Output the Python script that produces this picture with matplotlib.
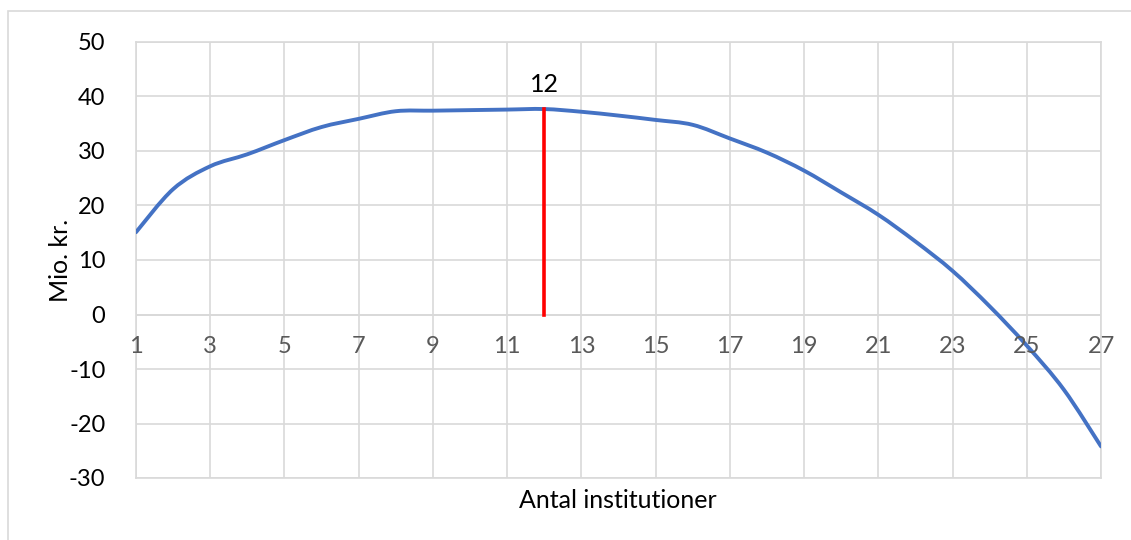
import matplotlib
matplotlib.use("Agg")
import matplotlib.pyplot as plt
from matplotlib.patches import Rectangle, PathPatch
from matplotlib.path import Path

# Antal institutioner vs. Mio. kr.
antal = list(range(1, 28))
mio_kr = [15.1, 23.0, 27.2, 29.4, 32.0, 34.4, 35.9, 37.3, 37.4, 37.5,
          37.6, 37.7, 37.2, 36.5, 35.7, 34.8, 32.3, 29.7, 26.4, 22.4,
          18.3, 13.4, 8.0, 1.5, -5.7, -13.8, -24.2]
optimum = 12
optimum_val = 37.7

plt.rcParams["font.family"] = ["Lato", "DejaVu Sans"]
plt.rcParams["axes.unicode_minus"] = False

fig = plt.figure(figsize=(11.31, 5.40), dpi=100)
ax = fig.add_axes([136 / 1131, 1 - 478 / 540, (1101 - 136) / 1131, (478 - 42) / 540])

# outer chart border (Excel frame)
fig.patches.append(Rectangle((8 / 1131, -0.05), 1.2, 1 - 11 / 540 + 0.05,
                             transform=fig.transFigure, fill=False,
                             edgecolor="#d9d9d9", lw=1.2))

# smoothed line like Excel: cubic bezier segments through the data points
verts = [(antal[0], mio_kr[0])]
codes = [Path.MOVETO]
n = len(antal)
for i in range(n - 1):
    x0, y0 = antal[max(i - 1, 0)], mio_kr[max(i - 1, 0)]
    x1, y1 = antal[i], mio_kr[i]
    x2, y2 = antal[i + 1], mio_kr[i + 1]
    x3, y3 = antal[min(i + 2, n - 1)], mio_kr[min(i + 2, n - 1)]
    verts += [(x1 + (x2 - x0) / 6, y1 + (y2 - y0) / 6),
              (x2 - (x3 - x1) / 6, y2 - (y3 - y1) / 6),
              (x2, y2)]
    codes += [Path.CURVE4] * 3
ax.add_patch(PathPatch(Path(verts, codes), facecolor="none", edgecolor="#4472C4",
                       lw=2.8, capstyle="round", zorder=3))

ax.plot([optimum, optimum], [0, optimum_val], color="#FF0000", lw=2.6, zorder=4)
ax.text(optimum, optimum_val + 2.4, str(optimum), ha="center", va="bottom",
        fontsize=18, color="black")

ax.set_xlim(1, 27)
ax.set_ylim(-30, 50)
ax.set_yticks(range(-30, 51, 10))
ax.set_xticks(range(1, 28, 2))
ax.grid(True, color="#d9d9d9", lw=1.2)
ax.set_axisbelow(True)
for s in ax.spines.values():
    s.set_color("#d9d9d9")
    s.set_linewidth(1.2)
ax.axhline(0, color="#d9d9d9", lw=1.4, zorder=1)
ax.tick_params(length=0, labelsize=17)
ax.tick_params(axis="y", pad=22, labelcolor="black")

# x tick labels sit next to the zero line, as in Excel
ax.set_xticklabels([])
for x in range(1, 28, 2):
    ax.text(x, -3.9, str(x), ha="center", va="top", fontsize=17, color="#595959")

ax.set_ylabel("Mio. kr.", fontsize=18)
ax.yaxis.set_label_coords(-0.066, 0.5)
fig.text(618 / 1131, 1 - 500 / 540, "Antal institutioner", ha="center", va="center",
         fontsize=18)

fig.savefig("out.png", dpi=100)
